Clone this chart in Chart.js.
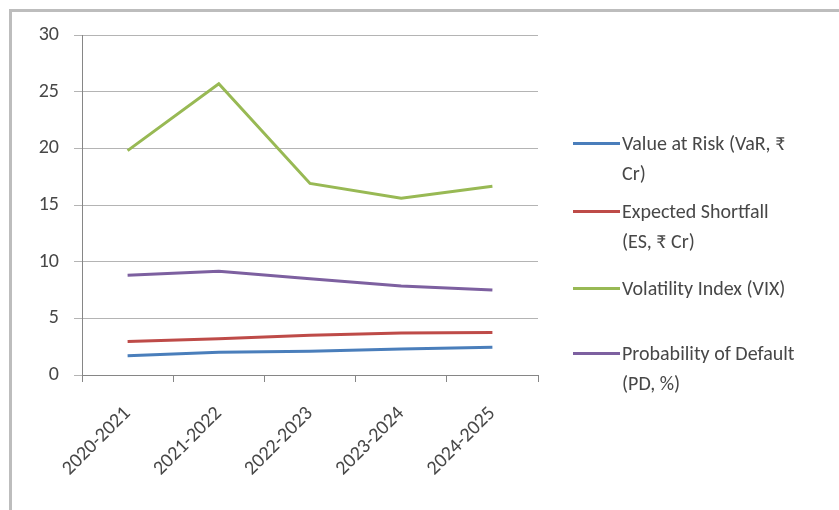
<!DOCTYPE html>
<html>
<head>
<meta charset="utf-8">
<script src="https://cdn.jsdelivr.net/npm/chart.js@4.4.1/dist/chart.umd.min.js"></script>
<style>
  html, body { margin: 0; padding: 0; background: #fff; }
  #wrap { position: relative; width: 839px; height: 510px; overflow: hidden; }
  #frame {
    position: absolute; left: 9px; top: 9px; width: 900px; height: 600px;
    border-top: 3px solid #bdbdbd; border-left: 3px solid #bdbdbd;
  }
  #myChart { position: absolute; left: 0; top: 0; }
  #legend {
    position: absolute; left: 573px; top: 0; width: 266px;
    font-family: Carlito, Calibri, Lato, sans-serif; font-size: 20px; color: #474747;
  }
  .item { position: absolute; left: 0; white-space: nowrap; line-height: 30px; }
  .swatch { position: absolute; left: 0; width: 47px; height: 3px; }
  .txt { position: absolute; left: 49px; }
</style>
</head>
<body>
<div id="wrap">
  <div id="frame"></div>
  <canvas id="myChart" width="839" height="510"></canvas>
  <div id="legend"></div>
</div>
<script>
const years = ["2020-2021", "2021-2022", "2022-2023", "2023-2024", "2024-2025"];
const seriesNames = [
	"Value at Risk (VaR, ₹ Cr)",
	"Expected Shortfall (ES, ₹ Cr)",
	"Volatility Index (VIX)",
	"Probability of Default (PD, %)",
];
// how the legend wraps in the picture
const legendLines = [
	["Value at Risk (VaR, ₹", "Cr)"],
	["Expected Shortfall", "(ES, ₹ Cr)"],
	["Volatility Index (VIX)"],
	["Probability of Default", "(PD, %)"],
];
const varData = [1.7, 2.0, 2.1, 2.3, 2.45];
const esData = [2.95, 3.2, 3.5, 3.7, 3.75];
const vixData = [19.8, 25.7, 16.9, 15.6, 16.65];
const pdData = [8.8, 9.15, 8.5, 7.85, 7.5];
const colors = ["#4a7ebb", "#be4b48", "#98b954", "#7d60a0"];
const legendTops = [143, 211, 288, 353];

const fontFam = "Carlito, Calibri, Lato, sans-serif";
const allData = [varData, esData, vixData, pdData];

chartIt();

function chartIt() {
	const ctx = document.getElementById("myChart");
	const myChart = new Chart(ctx, {
		type: "line",
		data: {
			labels: years,
			datasets: seriesNames.map((name, i) => ({
				label: name,
				data: allData[i],
				borderColor: colors[i],
				backgroundColor: colors[i],
				borderWidth: 3,
				pointRadius: 0,
				tension: 0,
				fill: false,
			})),
		},
		options: {
			responsive: false,
			animation: false,
			layout: { padding: { left: 0, top: 35, right: 301, bottom: 0 } },
			plugins: {
				legend: { display: false },
				tooltip: { enabled: false },
			},
			scales: {
				x: {
					offset: true,
					grid: {
						offset: true,
						drawOnChartArea: false,
						tickLength: 7,
						color: "#868686",
					},
					border: { color: "#868686", width: 1 },
					ticks: {
						maxRotation: 45,
						minRotation: 45,
						padding: 20,
						color: "#474747",
						font: { family: fontFam, size: 20 },
					},
					afterFit: (s) => { s.height = 135; },
				},
				y: {
					min: 0,
					max: 30,
					ticks: {
						stepSize: 5,
						padding: 15,
						color: "#474747",
						font: { family: fontFam, size: 20 },
					},
					grid: { color: "#b4b4b4", tickLength: 8 },
					border: { color: "#868686", width: 1 },
					afterFit: (s) => { s.width = 82; },
				},
			},
		},
	});

	// html legend
	const leg = document.getElementById("legend");
	seriesNames.forEach((name, i) => {
		const item = document.createElement("div");
		item.className = "item";
		item.style.top = (legendTops[i] - 15) + "px";
		item.title = name;
		const sw = document.createElement("div");
		sw.className = "swatch";
		sw.style.background = colors[i];
		sw.style.top = "14px";
		const tx = document.createElement("div");
		tx.className = "txt";
		tx.innerHTML = legendLines[i].join("<br>");
		item.appendChild(sw);
		item.appendChild(tx);
		leg.appendChild(item);
	});
}
</script>
</body>
</html>
